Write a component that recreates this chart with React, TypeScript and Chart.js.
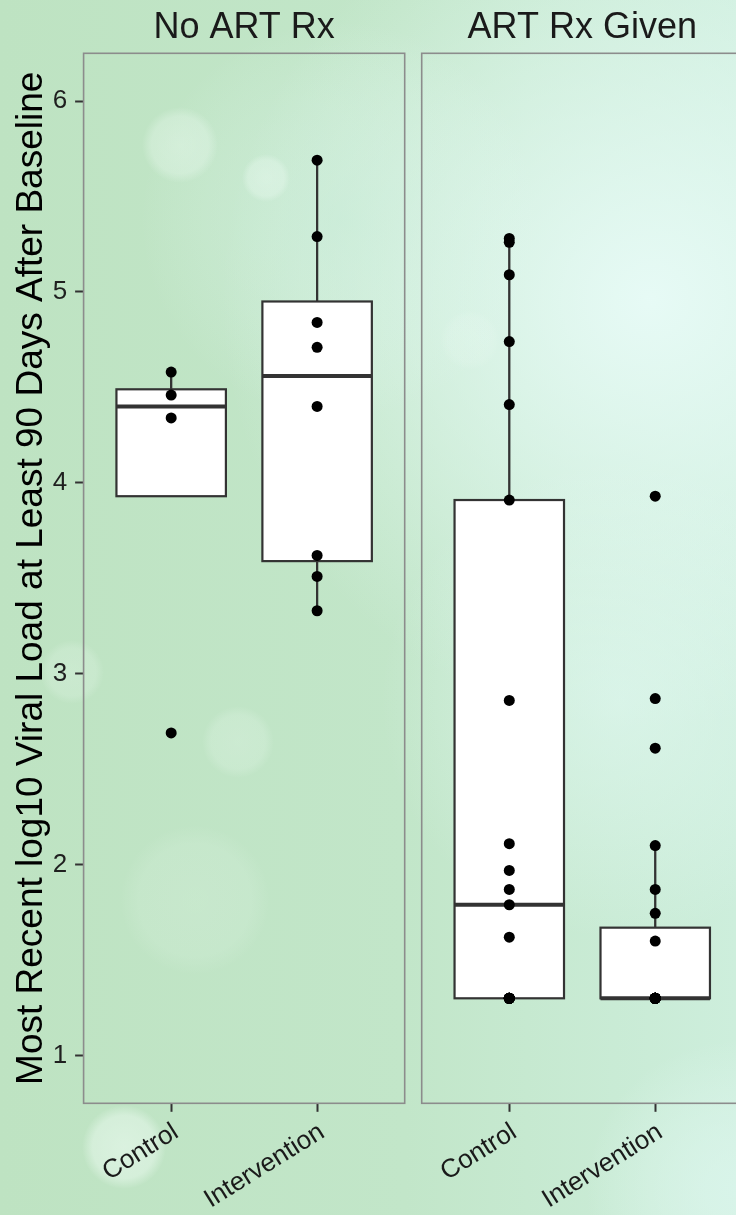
import React, { useEffect, useRef } from "react";
import { Chart, registerables } from "chart.js";

Chart.register(...registerables);

// ---------- data ----------
const facetTitles = ["No ART Rx", "ART Rx Given"];
const groupLabels = ["Control", "Intervention"];
const yTickValues = [1, 2, 3, 4, 5, 6];

const noArtControl = [4.58, 4.46, 4.34, 2.69];
const noArtIntervention = [5.69, 5.29, 4.84, 4.71, 4.4, 3.62, 3.51, 3.33];
const artControl = [
  5.28, 5.26, 5.09, 4.74, 4.41, 3.91, 2.86, 2.11, 1.97, 1.87, 1.79, 1.62,
  1.3, 1.3, 1.3, 1.3, 1.3, 1.3, 1.3, 1.3, 1.3,
];
const artIntervention = [
  3.93, 2.87, 2.61, 2.1, 1.87, 1.745, 1.6,
  1.3, 1.3, 1.3, 1.3, 1.3, 1.3, 1.3, 1.3, 1.3, 1.3, 1.3, 1.3, 1.3, 1.3, 1.3, 1.3,
];

// box statistics, order: No ART Control, No ART Intervention, ART Control, ART Intervention
const boxQ1 = [3.93, 3.59, 1.3, 1.3];
const boxMedian = [4.4, 4.56, 1.79, 1.3];
const boxQ3 = [4.49, 4.95, 3.91, 1.67];
const whiskerLow = [4.34, 3.33, 1.3, 1.3];
const whiskerHigh = [4.58, 5.69, 5.28, 2.1];

const yTitle = "Most Recent log10 Viral Load at Least 90 Days After Baseline";

// ---------- layout constants ----------
const W = 736;
const H = 1215;
const FACET_OFFSET = 2.3166; // x-units between the two facet panels
const PANEL_MIN = 0.4;
const PANEL_MAX = 2.6;
const X_MAX = 4.87;
const BOX_HALF = 0.375;
const FONT = '"Liberation Sans", Arial, Helvetica, sans-serif';

const seriesList = [noArtControl, noArtIntervention, artControl, artIntervention];
const groupX = (facet: number, group: number) => group + 1 + facet * FACET_OFFSET;
const tickPositions = [groupX(0, 0), groupX(0, 1), groupX(1, 0), groupX(1, 1)];

const bokeh = [
  { x: 180, y: 145, r: 38, a: 0.35 },
  { x: 266, y: 178, r: 24, a: 0.35 },
  { x: 238, y: 742, r: 36, a: 0.22 },
  { x: 72, y: 672, r: 32, a: 0.22 },
  { x: 195, y: 900, r: 75, a: 0.14 },
  { x: 124, y: 1147, r: 42, a: 0.5 },
  { x: 470, y: 340, r: 30, a: 0.15 },
];

const decorPlugin = {
  id: "facetDecor",
  beforeDraw(chart: any) {
    const { ctx } = chart;
    ctx.save();
    const lg = ctx.createLinearGradient(0, 0, W, 0);
    lg.addColorStop(0, "#bee3c2");
    lg.addColorStop(0.55, "#c2e6c9");
    lg.addColorStop(1, "#cdeedc");
    ctx.fillStyle = lg;
    ctx.fillRect(0, 0, W, H);
    const glows = [
      { x: 650, y: 300, r: 430, c: "rgba(232,251,247,0.95)" },
      { x: 620, y: 700, r: 240, c: "rgba(226,249,243,0.6)" },
      { x: 736, y: 1190, r: 150, c: "rgba(220,246,238,0.75)" },
      { x: 340, y: 220, r: 200, c: "rgba(205,238,222,0.5)" },
    ];
    for (const g of glows) {
      const rg = ctx.createRadialGradient(g.x, g.y, 0, g.x, g.y, g.r);
      rg.addColorStop(0, g.c);
      rg.addColorStop(1, "rgba(232,251,247,0)");
      ctx.fillStyle = rg;
      ctx.fillRect(0, 0, W, H);
    }
    for (const b of bokeh) {
      const rg = ctx.createRadialGradient(b.x, b.y, 0, b.x, b.y, b.r);
      rg.addColorStop(0, `rgba(245,255,250,${b.a})`);
      rg.addColorStop(0.75, `rgba(245,255,250,${b.a * 0.8})`);
      rg.addColorStop(1, "rgba(245,255,250,0)");
      ctx.fillStyle = rg;
      ctx.beginPath();
      ctx.arc(b.x, b.y, b.r, 0, Math.PI * 2);
      ctx.fill();
    }
    ctx.restore();
  },
  beforeDatasetsDraw(chart: any) {
    const { ctx, chartArea } = chart;
    const xs = chart.scales.x;
    const ys = chart.scales.y;
    ctx.save();
    ctx.beginPath();
    ctx.rect(chartArea.left, chartArea.top, chartArea.right - chartArea.left, chartArea.bottom - chartArea.top);
    ctx.clip();
    ctx.strokeStyle = "#333333";
    for (let i = 0; i < 4; i++) {
      const cx = xs.getPixelForValue(tickPositions[i]);
      // whiskers
      ctx.lineWidth = 2.3;
      ctx.beginPath();
      ctx.moveTo(cx, ys.getPixelForValue(boxQ3[i]));
      ctx.lineTo(cx, ys.getPixelForValue(whiskerHigh[i]));
      ctx.moveTo(cx, ys.getPixelForValue(boxQ1[i]));
      ctx.lineTo(cx, ys.getPixelForValue(whiskerLow[i]));
      ctx.stroke();
    }
    for (let i = 0; i < 4; i++) {
      const x0 = xs.getPixelForValue(tickPositions[i] - BOX_HALF);
      const x1 = xs.getPixelForValue(tickPositions[i] + BOX_HALF);
      const yTop = ys.getPixelForValue(boxQ3[i]);
      const yBot = ys.getPixelForValue(boxQ1[i]);
      ctx.fillStyle = "#ffffff";
      ctx.fillRect(x0, yTop, x1 - x0, yBot - yTop);
      ctx.lineWidth = 2.2;
      ctx.strokeRect(x0, yTop, x1 - x0, yBot - yTop);
      const ym = ys.getPixelForValue(boxMedian[i]);
      ctx.lineWidth = 4;
      ctx.beginPath();
      ctx.moveTo(x0, ym);
      ctx.lineTo(x1, ym);
      ctx.stroke();
    }
    ctx.restore();
  },
  afterDraw(chart: any) {
    const { ctx, chartArea } = chart;
    const xs = chart.scales.x;
    ctx.save();
    // panel borders
    ctx.strokeStyle = "#8c8c8c";
    ctx.lineWidth = 1.6;
    for (let f = 0; f < 2; f++) {
      const l = xs.getPixelForValue(PANEL_MIN + f * FACET_OFFSET);
      const r = xs.getPixelForValue(PANEL_MAX + f * FACET_OFFSET);
      ctx.strokeRect(l, chartArea.top, r - l, chartArea.bottom - chartArea.top);
    }
    // strip titles
    ctx.fillStyle = "#1a1a1a";
    ctx.font = `36px ${FONT}`;
    ctx.textAlign = "center";
    ctx.textBaseline = "alphabetic";
    for (let f = 0; f < 2; f++) {
      const l = xs.getPixelForValue(PANEL_MIN + f * FACET_OFFSET);
      const r = xs.getPixelForValue(PANEL_MAX + f * FACET_OFFSET);
      ctx.fillText(facetTitles[f], (l + r) / 2, 37.7);
    }
    // y-axis title
    ctx.fillStyle = "#000000";
    ctx.font = `37px ${FONT}`;
    ctx.translate(41.7, (chartArea.top + chartArea.bottom) / 2);
    ctx.rotate(-Math.PI / 2);
    ctx.fillText(yTitle, 0, 0);
    ctx.restore();
  },
};

export default function App() {
  const canvasRef = useRef<HTMLCanvasElement | null>(null);

  useEffect(() => {
    if (!canvasRef.current) return;
    const datasets = seriesList.map((vals, i) => ({
      label: `${facetTitles[Math.floor(i / 2)]} ${groupLabels[i % 2]}`,
      data: vals.map((v) => ({ x: tickPositions[i], y: v })),
      pointRadius: 5.5,
      pointHoverRadius: 5.5,
      pointBackgroundColor: "#000000",
      pointBorderWidth: 0,
      showLine: false,
    }));
    const chart = new Chart(canvasRef.current, {
      type: "scatter",
      data: { datasets },
      plugins: [decorPlugin],
      options: {
        animation: false,
        responsive: false,
        maintainAspectRatio: false,
        devicePixelRatio: 1,
        layout: { padding: { top: 53.3, left: 0, right: 0, bottom: 0 }, autoPadding: false },
        plugins: { legend: { display: false }, tooltip: { enabled: false } },
        events: [],
        scales: {
          x: {
            type: "linear",
            min: PANEL_MIN,
            max: X_MAX,
            afterBuildTicks: (scale: any) => {
              scale.ticks = tickPositions.map((v) => ({ value: v }));
            },
            afterFit: (scale: any) => {
              scale.height = H - 1103.3;
            },
            ticks: {
              autoSkip: false,
              minRotation: 32,
              maxRotation: 32,
              padding: 5,
              labelOffset: 5,
              color: "#1a1a1a",
              font: { family: FONT, size: 26 },
              callback: (_v: any, index: number) => groupLabels[index % 2],
            },
            grid: {
              drawOnChartArea: false,
              drawTicks: true,
              tickLength: 8.5,
              tickColor: "#333333",
              tickWidth: 2,
            },
            border: { display: false },
          },
          y: {
            type: "linear",
            min: 0.75,
            max: 6.25,
            afterBuildTicks: (scale: any) => {
              scale.ticks = yTickValues.map((v) => ({ value: v }));
            },
            afterFit: (scale: any) => {
              scale.width = 83.6;
            },
            ticks: {
              padding: 8,
              color: "#1f1f1f",
              font: { family: FONT, size: 26 },
              callback: (v: any) => String(v),
            },
            grid: {
              drawOnChartArea: false,
              drawTicks: true,
              tickLength: 8.5,
              tickColor: "#333333",
              tickWidth: 2,
            },
            border: { display: false },
          },
        },
      } as any,
    });
    return () => chart.destroy();
  }, []);

  return (
    <div style={{ position: "absolute", left: 0, top: 0, width: W, height: H, overflow: "hidden" }}>
      <canvas ref={canvasRef} width={W} height={H} style={{ width: W, height: H, display: "block" }} />
    </div>
  );
}
